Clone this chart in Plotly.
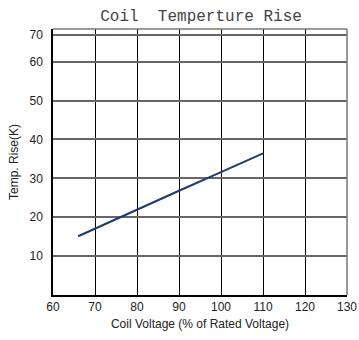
import plotly.graph_objects as go

voltage = [66, 80, 90, 100, 110]
temp_rise = [15.1, 22.0, 26.8, 31.6, 36.4]
x_ticks = [60, 70, 80, 90, 100, 110, 120, 130]
y_ticks = [10, 20, 30, 40, 50, 60, 66.9]
y_tick_labels = ["10", "20", "30", "40", "50", "60", "70"]

fig = go.Figure()
fig.add_trace(go.Scatter(x=voltage, y=temp_rise, mode="lines",
                         line=dict(color="#1f3a70", width=2), showlegend=False))

fig.update_layout(
    width=359, height=340,
    margin=dict(l=53, r=12, t=29, b=45),
    paper_bgcolor="white", plot_bgcolor="white",
    title=dict(text="Coil  Temperture Rise", x=0.56, xanchor="center", y=0.955, yanchor="middle",
               font=dict(family="Liberation Mono, DejaVu Sans Mono", size=16, color="#444")),
    font=dict(family="Liberation Sans, Arial", size=12, color="#222"),
)
fig.update_xaxes(range=[60, 130], tickvals=x_ticks, showgrid=True, gridcolor="black", gridwidth=1,
                 showline=True, linecolor="black", linewidth=1.5, zeroline=False, ticks="",
                 automargin=False,
                 title=dict(text="Coil Voltage (% of Rated Voltage)", standoff=6, font=dict(size=12)),
                 tickfont=dict(size=12))
fig.update_yaxes(range=[0, 68.4], tickvals=y_ticks, ticktext=y_tick_labels, showgrid=True,
                 gridcolor="#666", gridwidth=1.5,
                 showline=True, linecolor="black", linewidth=1.5, zeroline=False, ticks="",
                 ticklabelstandoff=6, automargin=False,
                 title=dict(text="Temp. Rise(K)", standoff=8, font=dict(size=12)),
                 tickfont=dict(size=12))
# top and right frame in gray
fig.add_shape(type="line", xref="paper", yref="paper", x0=0, x1=1, y0=1, y1=1,
              line=dict(color="#777", width=1.5))
fig.add_shape(type="line", xref="paper", yref="paper", x0=1, x1=1, y0=0, y1=1,
              line=dict(color="#777", width=1.5))
fig.write_html("out.html", config={"displayModeBar": False},
               post_script="document.body.style.margin='0';document.body.style.overflow='hidden';")
